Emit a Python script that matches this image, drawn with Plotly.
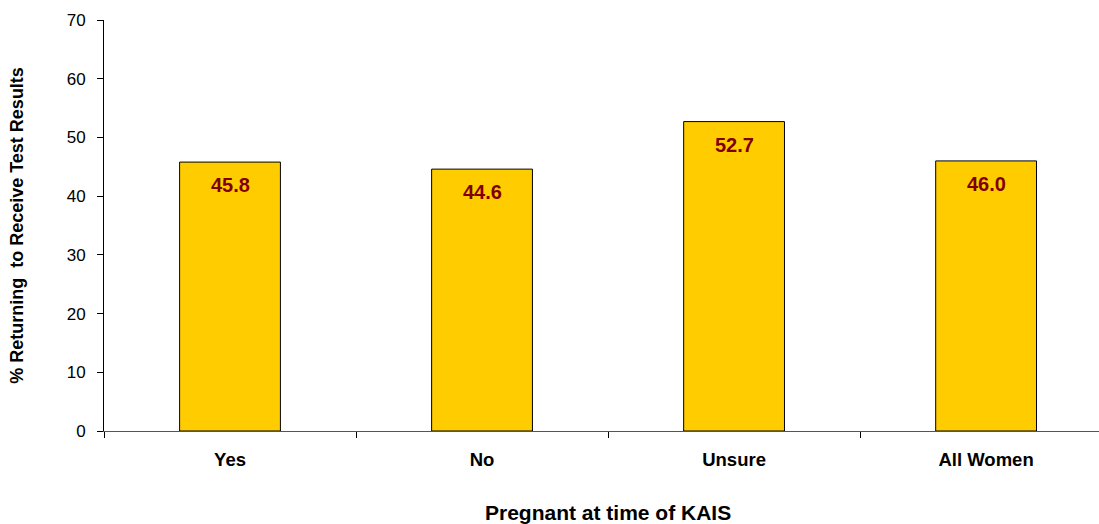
import plotly.graph_objects as go

categories = ["Yes", "No", "Unsure", "All Women"]
values = [45.8, 44.6, 52.7, 46.0]
value_labels = ["45.8", "44.6", "52.7", "46.0"]
y_ticks = [0, 10, 20, 30, 40, 50, 60, 70]

x_idx = list(range(len(categories)))
FONT = "Liberation Sans, Arial"

fig = go.Figure()
fig.add_trace(go.Bar(
    x=x_idx, y=values, width=0.4,
    marker=dict(color="#FFCC00", line=dict(color="#000000", width=1)),
    hoverinfo="skip",
))

for xi, v, lab in zip(x_idx, values, value_labels):
    fig.add_annotation(x=xi, y=v, text="<b>%s</b>" % lab, showarrow=False,
                       yanchor="middle", yshift=-23,
                       font=dict(family=FONT, size=20, color="#800000"))

fig.add_annotation(x=1.5, xref="x", y=0, yref="paper", yshift=-81, yanchor="middle",
                   text="<b>Pregnant at time of KAIS</b>", showarrow=False,
                   font=dict(family=FONT, size=21, color="#000000"))

fig.update_layout(
    width=1099, height=524,
    margin=dict(l=104, r=0, t=20, b=93),
    paper_bgcolor="white", plot_bgcolor="white",
    showlegend=False,
    font=dict(family=FONT, color="#000000"),
    xaxis=dict(
        range=[-0.5, 3.448],
        tickvals=x_idx, ticktext=["<b>%s</b>" % c for c in categories],
        ticks="", tickfont=dict(size=18.5), ticklabelstandoff=12,
        showline=True, linecolor="#555555", linewidth=1,
        showgrid=False, zeroline=False,
        minor=dict(tickvals=[-0.5, 0.5, 1.5, 2.5], ticks="outside", ticklen=6,
                   tickcolor="#000000", tickwidth=1),
    ),
    yaxis=dict(
        range=[0, 70], tickvals=y_ticks,
        ticks="outside", ticklen=6, tickcolor="#000000",
        tickfont=dict(size=17), ticklabelstandoff=8,
        showline=True, linecolor="#000000", linewidth=1,
        showgrid=False, zeroline=False,
        title=dict(text="<b>% Returning  to Receive Test Results</b>",
                   font=dict(size=18), standoff=38),
    ),
)

fig.write_html("out.html", config={"displayModeBar": False},
               post_script="document.body.style.margin='0';")
